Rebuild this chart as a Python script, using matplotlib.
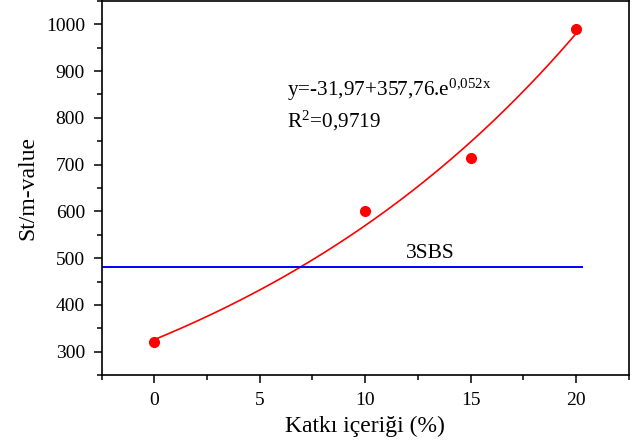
import numpy as np
import matplotlib
matplotlib.use("Agg")
import matplotlib.pyplot as plt
from matplotlib.ticker import MultipleLocator

plt.rcParams['font.family'] = ['Liberation Serif', 'DejaVu Serif']
plt.rcParams['mathtext.fontset'] = 'stix'

# Data
additive = [0, 10, 15, 20]
stm_values = [320, 600, 714, 990]

# Fitted model parameters (from equation shown on chart)
fit_a, fit_b, fit_c = -31.97, 357.76, 0.052
fit_x_range = (0, 20)

ref_label = "3SBS"
ref_value = 482
ref_x_range = (-2.5, 20.3)

eq_text = r"y=-31,97+357,76.e$^{\mathregular{0{,}052x}}$"
r2_text = r"R$^{\mathregular{2}}$=0,9719"

fig = plt.figure(figsize=(6.41, 4.46), dpi=100)
ax = fig.add_axes([0.1585, 0.159, 0.8225, 0.839])

xs = np.linspace(fit_x_range[0], fit_x_range[1], 200)
ax.plot(xs, fit_a + fit_b * np.exp(fit_c * xs), color='red', lw=1.2, zorder=2)
ax.plot(additive, stm_values, 'o', color='red', ms=7, zorder=3)
ax.plot(ref_x_range, [ref_value, ref_value], color='blue', lw=1.4, zorder=2)

ax.text(13.1, 490, ref_label, ha='center', va='bottom', fontsize=15.5)
ax.text(6.3, 859, eq_text, ha='left', va='center', fontsize=15.3)
ax.text(6.3, 793, r2_text, ha='left', va='center', fontsize=15.3)

ax.set_xlim(-2.5, 22.5)
ax.set_ylim(250, 1050)
ax.xaxis.set_major_locator(MultipleLocator(5))
ax.xaxis.set_minor_locator(MultipleLocator(2.5))
ax.yaxis.set_major_locator(MultipleLocator(100))
ax.yaxis.set_minor_locator(MultipleLocator(50))
ax.set_yticks(range(300, 1001, 100))

ax.tick_params(which='major', direction='out', length=6, width=1.1, labelsize=14, pad=6)
ax.tick_params(which='minor', direction='out', length=3.5, width=1.1)
for s in ax.spines.values():
    s.set_linewidth(1.2)

ax.set_xlabel("Katkı içeriği (%)", fontsize=17, labelpad=5)
ax.set_ylabel("St/m-value", fontsize=17, labelpad=5)

fig.savefig("out.png", dpi=100)
